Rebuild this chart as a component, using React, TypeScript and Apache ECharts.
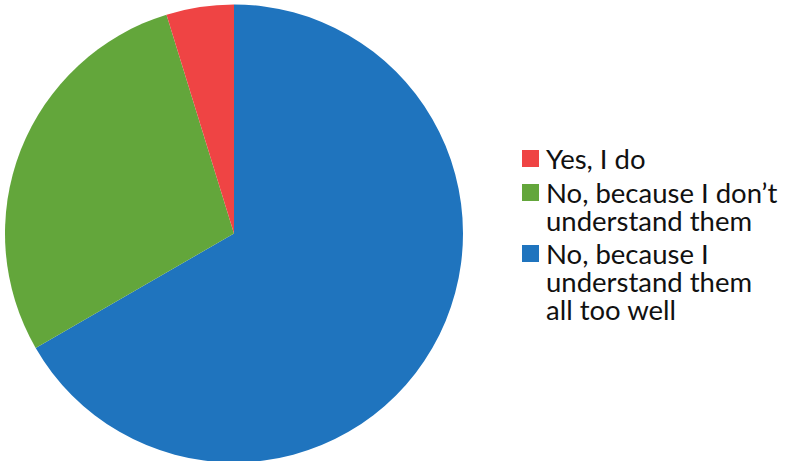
import React, { useEffect, useRef } from 'react';
import * as echarts from 'echarts';

// Slices in drawing order (clockwise from 12 o'clock)
const categories = [
  'No, because I understand them all too well',
  'No, because I don’t understand them',
  'Yes, I do',
];
const values = [14, 6, 1];
const colors = ['#1F74BE', '#63A63B', '#EF4444'];

// Legend order and wrapped lines
const legendOrder = [
  'Yes, I do',
  'No, because I don’t understand them',
  'No, because I understand them all too well',
];
const legendLines = [
  ['Yes, I do'],
  ['No, because I don’t', 'understand them'],
  ['No, because I', 'understand them', 'all too well'],
];
const legendIconTops = [150, 184, 245];

const LINE_H = 28;
const ICON = 17;

export default function App() {
  const ref = useRef<HTMLDivElement>(null);
  useEffect(() => {
    if (!ref.current) return;
    const chart = echarts.init(ref.current, null, { renderer: 'svg' });
    const legends = legendOrder.map((name, i) => {
      const n = legendLines[i].length;
      const top = legendIconTops[i] - (LINE_H / 2) * (2 * n - 1) + ICON / 2;
      return {
        orient: 'vertical',
        left: 522,
        top,
        padding: 0,
        itemWidth: ICON,
        itemHeight: ICON,
        icon: 'rect',
        selectedMode: false,
        data: [name],
        formatter: (nm: string) => {
          const idx = legendOrder.indexOf(nm);
          const lines = legendLines[idx];
          const blanks = new Array(lines.length - 1).fill(' ');
          return blanks.concat(lines).join('\n');
        },
        textStyle: {
          fontFamily: 'Lato',
          fontSize: 27.5,
          lineHeight: LINE_H,
          color: '#111111',
          padding: [0, 0, 0, 2],
          backgroundColor: 'rgba(0,0,0,0)',
        },
      };
    });
    chart.setOption({
      animation: false,
      color: colors,
      legend: legends,
      series: [
        {
          type: 'pie',
          center: [234, 233.5],
          radius: 229,
          startAngle: 90,
          clockwise: true,
          label: { show: false },
          labelLine: { show: false },
          emphasis: { disabled: true },
          itemStyle: { borderWidth: 0 },
          data: categories.map((c, i) => ({ name: c, value: values[i] })),
        },
      ],
    });
    return () => chart.dispose();
  }, []);
  return (
    <div
      ref={ref}
      style={{ position: 'fixed', left: 0, top: 0, width: 787, height: 461, background: '#fff' }}
    />
  );
}
